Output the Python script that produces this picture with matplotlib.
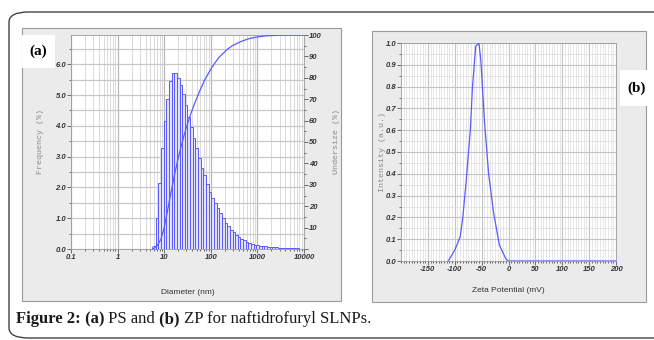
import numpy as np
import matplotlib
matplotlib.use("Agg")
from matplotlib import pyplot as plt
from matplotlib.patches import Rectangle, FancyBboxPatch
from matplotlib.ticker import MultipleLocator, FixedLocator, NullFormatter

# particle size distribution (bin edges in nm, frequency in %)
diam_edges = [6.55, 7.47, 8.51, 9.70, 11.06, 12.61, 14.38, 16.39, 18.69, 21.30,
              24.28, 27.68, 31.56, 35.98, 41.01, 46.76, 53.30, 60.77, 69.27, 78.97,
              90.03, 102.6, 117.0, 133.4, 152.1, 173.3, 197.6, 225.3, 256.8, 292.8,
              333.8, 380.5, 433.8, 494.5, 563.7, 642.7, 732.6, 835.2, 952.1, 1085,
              1237, 1411, 1608, 1833, 2090, 2383, 2716, 3096, 3530, 4024,
              4587, 5230, 5962, 6796, 7748]
frequency = [1.00, 2.13, 3.27, 4.15, 4.86, 5.45, 5.72, 5.70, 5.54, 5.32,
             5.02, 4.67, 4.29, 3.97, 3.59, 3.27, 2.96, 2.62, 2.40, 2.10,
             1.86, 1.67, 1.48, 1.32, 1.16, 1.00, 0.86, 0.74, 0.63, 0.54,
             0.46, 0.39, 0.33, 0.28, 0.24, 0.20, 0.17, 0.145, 0.125, 0.11,
             0.095, 0.085, 0.075, 0.066, 0.058, 0.051, 0.045, 0.040, 0.035, 0.031,
             0.027, 0.024, 0.021, 0.018]

# cumulative undersize curve (diameter nm, %)
under_d = [5.9, 7.0, 8.5, 10, 11.8, 14, 16.4, 19.5, 22.8, 27, 31.6, 37, 44, 57, 72,
           94, 118, 151, 226, 295, 450, 662, 1000, 1520, 3000, 10000]
under_pct = [0, 1.5, 4.5, 10, 18, 26.5, 34, 41.5, 47.5, 53.5, 58.5, 63, 67.5, 73.5, 78.5,
             83, 86.5, 89.6, 93.3, 95.1, 97, 98.3, 99.1, 99.6, 99.9, 100]

# zeta potential distribution
zeta = [-112, -100, -90, -85, -79, -71, -67, -61, -55, -51.5, -45, -37, -28, -17, -5, 0, 200]
intensity = [0, 0.05, 0.11, 0.20, 0.36, 0.60, 0.80, 0.985, 1.0, 0.92, 0.65, 0.40, 0.225,
             0.074, 0.01, 0, 0]

W, H = 654, 340
BLUE = '#5a5aff'


def box(x0, y0, x1, y1):
    # pixel box -> figure fraction rect
    return [x0 / W, 1 - y1 / H, (x1 - x0) / W, (y1 - y0) / H]


fig = plt.figure(figsize=(W / 100, H / 100), dpi=100)

# outer frame and grey panels (behind the axes)
fig.add_artist(FancyBboxPatch((9 / W, 1 - 338 / H), 700 / W, 326 / H,
                              boxstyle="round,pad=0,rounding_size=0.03",
                              transform=fig.transFigure, fc='white', ec='#444444',
                              lw=1.0, zorder=-3))
for b in [(22, 28, 341, 301), (372, 31, 646, 302)]:
    r = box(*b)
    fig.add_artist(Rectangle((r[0], r[1]), r[2], r[3], transform=fig.transFigure,
                             fc='#ebebeb', ec='#9a9a9a', lw=0.8, zorder=-2))

tick_font = dict(family='Liberation Sans', style='italic', weight='bold', size=5.5,
                 color='#333333')
mono = dict(family='Liberation Mono', size=6, color='#8a8a8a')

# ---------- panel (a) ----------
ax = fig.add_axes(box(71, 35, 304, 249))
ax.set_facecolor('white')
ax.set_xscale('log')
edges = np.array(diam_edges)
ax.bar(edges[:-1], frequency, width=np.diff(edges), align='edge',
       facecolor='#e2e2ff', edgecolor=BLUE, linewidth=0.7, zorder=3)
ax.set_xlim(0.1, 10000)
ax.set_ylim(0, 6.95)
ax.set_yticks(range(0, 7))
ax.set_yticklabels(['%.1f' % v for v in range(0, 7)], **tick_font)
ax.yaxis.set_minor_locator(MultipleLocator(0.5))
ax.set_xticks([0.1, 1, 10, 100, 1000, 10000])
ax.set_xticklabels(['0.1', '1', '10', '100', '1000', '10000'], **tick_font)
ax.xaxis.set_minor_formatter(NullFormatter())
ax.grid(True, which='major', axis='x', color='#b8b8b8', lw=0.9)
ax.grid(True, which='minor', axis='x', color='#d4d4d4', lw=0.6)
ax.grid(True, which='both', axis='y', color='#c8c8c8', lw=0.9)
ax.set_axisbelow(True)
ax.tick_params(which='major', length=3, width=0.6, color='#555555', pad=0.5)
ax.tick_params(which='minor', length=1.5, width=0.6, color='#555555')
for s in ax.spines.values():
    s.set_color('#9a9a9a')
    s.set_linewidth(0.6)
ax.set_ylabel('Frequency (%)', labelpad=8, **mono)
ax.set_xlabel('Diameter (nm)', family='Liberation Sans', size=6, color='#333333', labelpad=20)

ax2 = ax.twinx()
ax2.set_ylim(0, 100)
ax2.yaxis.set_major_locator(FixedLocator(range(0, 101, 10)))
ax2.yaxis.set_minor_locator(MultipleLocator(5))
ax2.set_yticklabels([''] + [str(v) for v in range(10, 101, 10)], **tick_font)
ax2.tick_params(which='major', length=3, width=0.6, color='#555555', pad=0.5)
ax2.tick_params(which='minor', length=1.5, width=0.6, color='#555555')
for s in ax2.spines.values():
    s.set_visible(False)
ax2.plot(under_d, under_pct, color=BLUE, lw=0.9, zorder=4)
ax2.plot(under_d[:1], [0.6], 'o', ms=3, mfc='none', mec=BLUE, mew=0.7)
ax2.set_ylabel('Undersize (%)', rotation=90, labelpad=8, **mono)

# ---------- panel (b) ----------
bx = fig.add_axes(box(401, 43, 616, 261))
bx.set_facecolor('white')
bx.plot(zeta, intensity, color=BLUE, lw=0.9, zorder=3)
bx.set_xlim(-200, 200)
bx.set_ylim(0, 1.0)
bx.set_xticks(range(-150, 201, 50))
bx.set_xticklabels([str(v) for v in range(-150, 201, 50)], **tick_font)
bx.xaxis.set_minor_locator(MultipleLocator(5))
yt = np.round(np.arange(0, 1.01, 0.1), 1)
bx.set_yticks(yt)
bx.set_yticklabels(['%.1f' % v for v in yt], **tick_font)
bx.yaxis.set_minor_locator(MultipleLocator(0.05))
bx.grid(True, which='major', color='#c4c4c4', lw=0.8)
bx.grid(True, which='minor', color='#dcdcdc', lw=0.5)
bx.set_axisbelow(True)
bx.tick_params(which='major', length=3, width=0.6, color='#555555', pad=0.5)
bx.tick_params(which='minor', length=1.5, width=0.6, color='#555555')
for s in bx.spines.values():
    s.set_color('#9a9a9a')
    s.set_linewidth(0.6)
bx.set_ylabel('Intensity (a.u.)', labelpad=0, **mono)
bx.set_xlabel('Zeta Potential (mV)', family='Liberation Sans', size=6, color='#333333', labelpad=10)

# panel tags
for (x0, y0, x1, y1), tag in [((22, 35, 55, 68), '(a)'), ((620, 70, 654, 106), '(b)')]:
    r = box(x0, y0, x1, y1)
    fig.add_artist(Rectangle((r[0], r[1]), r[2], r[3], transform=fig.transFigure,
                             fc='white', ec='none', zorder=5))
    fig.text((x0 + x1) / 2 / W, 1 - (y0 + y1) / 2 / H, tag, family='Liberation Serif',
             weight='bold', size=11, ha='center', va='center', zorder=6)

# caption with mixed weights
renderer = fig.canvas.get_renderer()
parts = [('Figure 2:', 'bold'), (' (a)', 'bold'), (' PS and', 'normal'),
         (' (b)', 'bold'), (' ZP for naftidrofuryl SLNPs.', 'normal')]
x = 16 / W
for s, w in parts:
    t = fig.text(x, 1 - 323 / H, s, family='Liberation Serif', weight=w, size=12,
                 color='#1a1a1a', va='baseline', ha='left')
    bb = t.get_window_extent(renderer)
    x = bb.x1 / fig.bbox.width

fig.savefig('out.png', dpi=100)
